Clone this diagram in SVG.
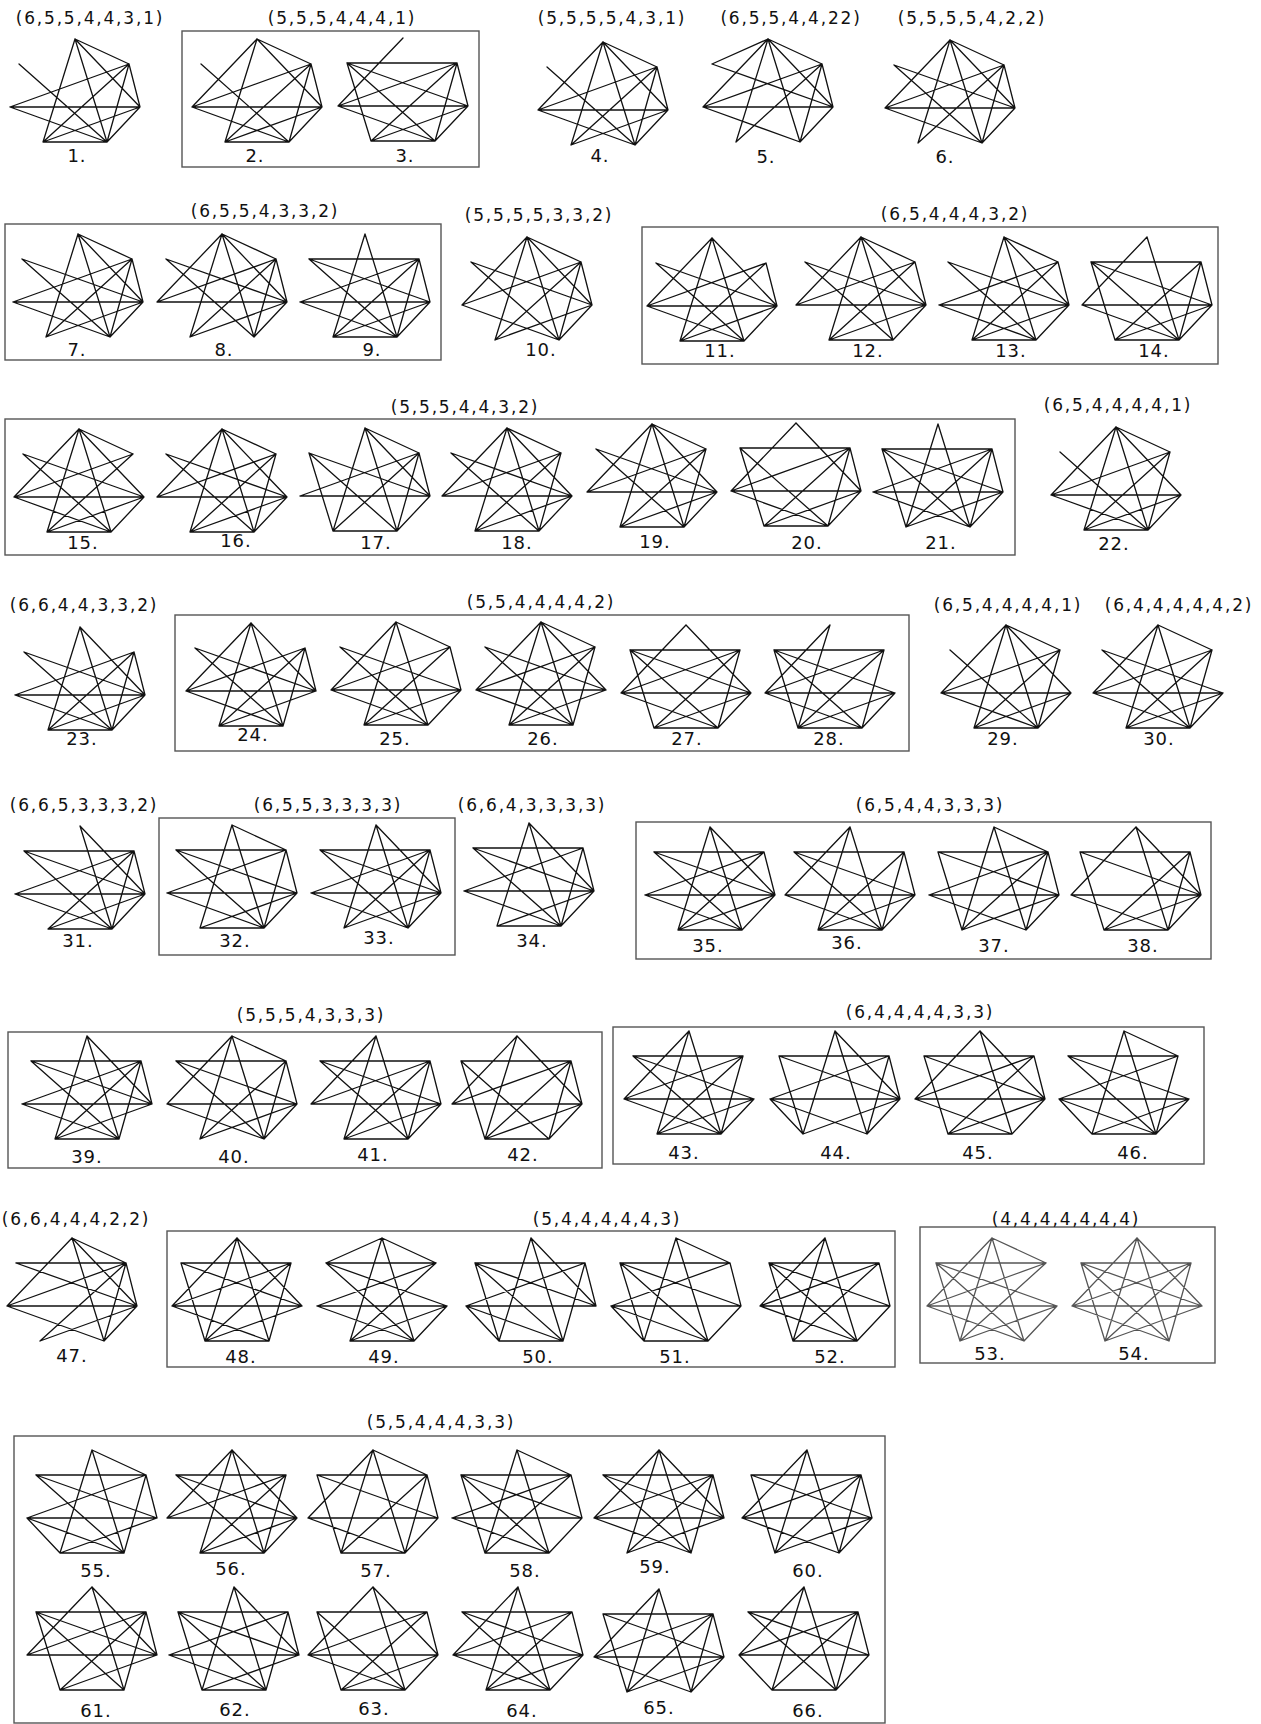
<svg xmlns="http://www.w3.org/2000/svg" width="1261" height="1724" viewBox="0 0 1261 1724">
<style>
.e{fill:none;stroke:#111;stroke-width:1.3;stroke-linecap:round}
.g{fill:none;stroke:#555;stroke-width:1.3;stroke-linecap:round}
.bx{fill:none;stroke:#555;stroke-width:1.4}
.t{font-family:"DejaVu Sans",Verdana,sans-serif;font-size:17px;letter-spacing:1.8px;fill:#111;text-anchor:middle}
.n{font-family:"DejaVu Sans",Verdana,sans-serif;font-size:18px;letter-spacing:1px;fill:#111;text-anchor:middle}
</style>
<rect width="1261" height="1724" fill="#fff"/>
<g id="boxes">
<rect class="bx" x="182" y="31" width="297" height="136"/>
<rect class="bx" x="5" y="224" width="436" height="136"/>
<rect class="bx" x="642" y="227" width="576" height="137"/>
<rect class="bx" x="5" y="419" width="1010" height="136"/>
<rect class="bx" x="175" y="615" width="734" height="136"/>
<rect class="bx" x="159" y="818" width="296" height="137"/>
<rect class="bx" x="636" y="822" width="575" height="137"/>
<rect class="bx" x="8" y="1032" width="594" height="136"/>
<rect class="bx" x="613" y="1027" width="591" height="137"/>
<rect class="bx" x="167" y="1231" width="728" height="136"/>
<rect class="bx" x="920" y="1227" width="295" height="136"/>
<rect class="bx" x="14" y="1436" width="871" height="287"/>
</g>
<g id="titles">
<text class="t" x="90" y="24">(6,5,5,4,4,3,1)</text>
<text class="t" x="342" y="24">(5,5,5,4,4,4,1)</text>
<text class="t" x="612" y="24">(5,5,5,5,4,3,1)</text>
<text class="t" x="791" y="24">(6,5,5,4,4,22)</text>
<text class="t" x="972" y="24">(5,5,5,5,4,2,2)</text>
<text class="t" x="265" y="217">(6,5,5,4,3,3,2)</text>
<text class="t" x="539" y="221">(5,5,5,5,3,3,2)</text>
<text class="t" x="955" y="220">(6,5,4,4,4,3,2)</text>
<text class="t" x="465" y="413">(5,5,5,4,4,3,2)</text>
<text class="t" x="1118" y="411">(6,5,4,4,4,4,1)</text>
<text class="t" x="84" y="611">(6,6,4,4,3,3,2)</text>
<text class="t" x="541" y="608">(5,5,4,4,4,4,2)</text>
<text class="t" x="1008" y="611">(6,5,4,4,4,4,1)</text>
<text class="t" x="1179" y="611">(6,4,4,4,4,4,2)</text>
<text class="t" x="84" y="811">(6,6,5,3,3,3,2)</text>
<text class="t" x="328" y="811">(6,5,5,3,3,3,3)</text>
<text class="t" x="532" y="811">(6,6,4,3,3,3,3)</text>
<text class="t" x="930" y="811">(6,5,4,4,3,3,3)</text>
<text class="t" x="311" y="1021">(5,5,5,4,3,3,3)</text>
<text class="t" x="920" y="1018">(6,4,4,4,4,3,3)</text>
<text class="t" x="76" y="1225">(6,6,4,4,4,2,2)</text>
<text class="t" x="607" y="1225">(5,4,4,4,4,4,3)</text>
<text class="t" x="1066" y="1225">(4,4,4,4,4,4,4)</text>
<text class="t" x="441" y="1428">(5,5,4,4,4,3,3)</text>
</g>
<g id="connectors">
<g id="g1"><path class="e" transform="translate(75 39)" d="M-56 25L32 103M54 25L-65 68M-65 68L65 68M-65 68L32 103M0 0L-32 103M0 0L32 103M0 0L54 25M0 0L65 68M54 25L65 68M54 25L-32 103M54 25L32 103M65 68L-32 103M-32 103L32 103M65 68L32 103"/><text class="n" x="77" y="162">1.</text></g>
<g id="g2"><path class="e" transform="translate(257 39)" d="M-56 25L32 103M0 0L-65 68M54 25L-65 68M-65 68L65 68M-65 68L32 103M0 0L-32 103M0 0L54 25M0 0L65 68M54 25L65 68M54 25L-32 103M54 25L32 103M65 68L-32 103M-32 103L32 103M65 68L32 103"/><text class="n" x="255" y="162">2.</text></g>
<g id="g3"><path class="e" transform="translate(403 38)" d="M0 0L-65 68M-56 25L54 25M-56 25L65 68M-56 25L32 103M-56 25L-32 103M54 25L-65 68M-65 68L65 68M-65 68L32 103M54 25L65 68M54 25L-32 103M54 25L32 103M65 68L-32 103M65 68L32 103M-32 103L32 103"/><text class="n" x="405" y="162">3.</text></g>
<g id="g4"><path class="e" transform="translate(603 42)" d="M-56 25L32 103M0 0L-65 68M0 0L-32 103M0 0L32 103M0 0L54 25M0 0L65 68M54 25L-65 68M-65 68L65 68M-65 68L32 103M54 25L65 68M54 25L-32 103M54 25L32 103M65 68L-32 103M65 68L32 103"/><text class="n" x="600" y="162">4.</text></g>
<g id="g5"><path class="e" transform="translate(768 39)" d="M0 0L-56 25M0 0L-65 68M0 0L-32 103M0 0L32 103M0 0L54 25M0 0L65 68M-56 25L65 68M54 25L-32 103M54 25L-65 68M-65 68L65 68M-65 68L32 103M54 25L65 68M54 25L32 103M65 68L32 103"/><text class="n" x="766" y="163">5.</text></g>
<g id="g6"><path class="e" transform="translate(950 40)" d="M-56 25L65 68M-56 25L32 103M0 0L-32 103M54 25L-32 103M0 0L-65 68M0 0L32 103M0 0L54 25M0 0L65 68M54 25L-65 68M-65 68L65 68M-65 68L32 103M54 25L65 68M54 25L32 103M65 68L32 103"/><text class="n" x="945" y="163">6.</text></g>
<g id="g7"><path class="e" transform="translate(78 234)" d="M-56 25L65 68M-56 25L32 103M0 0L-32 103M54 25L-32 103M65 68L-32 103M0 0L32 103M0 0L54 25M0 0L65 68M54 25L-65 68M-65 68L65 68M-65 68L32 103M54 25L65 68M54 25L32 103M65 68L32 103"/><text class="n" x="77" y="356">7.</text></g>
<g id="g8"><path class="e" transform="translate(222 234)" d="M0 0L-65 68M54 25L-65 68M-65 68L65 68M-56 25L65 68M-56 25L32 103M0 0L-32 103M54 25L-32 103M0 0L32 103M0 0L54 25M0 0L65 68M54 25L65 68M54 25L32 103M65 68L32 103M65 68L-32 103"/><text class="n" x="224" y="356">8.</text></g>
<g id="g9"><path class="e" transform="translate(365 234)" d="M0 0L-32 103M0 0L32 103M-56 25L54 25M-56 25L65 68M-56 25L32 103M54 25L-65 68M-65 68L65 68M-65 68L32 103M54 25L65 68M54 25L-32 103M54 25L32 103M65 68L-32 103M65 68L32 103M-32 103L32 103"/><text class="n" x="372" y="356">9.</text></g>
<g id="g10"><path class="e" transform="translate(527 237)" d="M-56 25L65 68M-56 25L32 103M0 0L-65 68M54 25L-65 68M-65 68L32 103M0 0L-32 103M54 25L-32 103M65 68L-32 103M0 0L54 25M0 0L65 68M0 0L32 103M54 25L65 68M54 25L32 103M65 68L32 103"/><text class="n" x="541" y="356">10.</text></g>
<g id="g11"><path class="e" transform="translate(712 238)" d="M-56 25L65 68M-56 25L32 103M0 0L-65 68M54 25L-65 68M-65 68L65 68M-65 68L32 103M0 0L-32 103M0 0L32 103M0 0L65 68M54 25L65 68M54 25L-32 103M65 68L-32 103M65 68L32 103M-32 103L32 103"/><text class="n" x="720" y="357">11.</text></g>
<g id="g12"><path class="e" transform="translate(861 237)" d="M-56 25L65 68M-56 25L32 103M0 0L-65 68M54 25L-65 68M-65 68L65 68M0 0L-32 103M0 0L32 103M0 0L54 25M0 0L65 68M54 25L65 68M54 25L-32 103M65 68L-32 103M65 68L32 103M-32 103L32 103"/><text class="n" x="868" y="357">12.</text></g>
<g id="g13"><path class="e" transform="translate(1004 237)" d="M-56 25L65 68M-56 25L32 103M54 25L-65 68M-65 68L65 68M-65 68L32 103M0 0L-32 103M0 0L32 103M0 0L54 25M0 0L65 68M54 25L65 68M54 25L-32 103M65 68L-32 103M65 68L32 103M-32 103L32 103"/><text class="n" x="1011" y="357">13.</text></g>
<g id="g14"><path class="e" transform="translate(1147 237)" d="M0 0L-65 68M0 0L32 103M-56 25L54 25M-56 25L-32 103M-56 25L65 68M-56 25L32 103M-65 68L65 68M-65 68L32 103M54 25L65 68M54 25L-32 103M54 25L32 103M65 68L-32 103M65 68L32 103M-32 103L32 103"/><text class="n" x="1154" y="357">14.</text></g>
<g id="g15"><path class="e" transform="translate(79 429)" d="M-56 25L65 68M-56 25L32 103M0 0L-65 68M54 25L-65 68M-65 68L65 68M-65 68L32 103M0 0L-32 103M0 0L32 103M0 0L54 25M0 0L65 68M54 25L-32 103M65 68L-32 103M65 68L32 103M-32 103L32 103"/><text class="n" x="83" y="549">15.</text></g>
<g id="g16"><path class="e" transform="translate(222 429)" d="M-56 25L65 68M-56 25L32 103M0 0L-65 68M54 25L-65 68M-65 68L65 68M0 0L-32 103M0 0L32 103M0 0L54 25M0 0L65 68M65 68L-32 103M65 68L32 103M-32 103L32 103M54 25L32 103M54 25L-32 103"/><text class="n" x="236" y="547">16.</text></g>
<g id="g17"><path class="e" transform="translate(365 428)" d="M54 25L-65 68M-65 68L65 68M-56 25L65 68M-56 25L32 103M-56 25L-32 103M0 0L-32 103M0 0L32 103M0 0L54 25M0 0L65 68M54 25L65 68M54 25L-32 103M54 25L32 103M65 68L32 103M-32 103L32 103"/><text class="n" x="376" y="549">17.</text></g>
<g id="g18"><path class="e" transform="translate(507 428)" d="M-56 25L65 68M-56 25L32 103M0 0L-65 68M0 0L-32 103M0 0L32 103M0 0L54 25M0 0L65 68M-65 68L65 68M54 25L-65 68M54 25L-32 103M54 25L32 103M65 68L-32 103M65 68L32 103M-32 103L32 103"/><text class="n" x="517" y="549">18.</text></g>
<g id="g19"><path class="e" transform="translate(652 424)" d="M-56 25L65 68M-56 25L32 103M0 0L-65 68M54 25L-65 68M-65 68L65 68M54 25L32 103M0 0L-32 103M0 0L32 103M0 0L65 68M0 0L54 25M54 25L-32 103M65 68L-32 103M65 68L32 103M-32 103L32 103"/><text class="n" x="655" y="548">19.</text></g>
<g id="g20"><path class="e" transform="translate(796 423)" d="M0 0L-65 68M0 0L65 68M-56 25L54 25M-56 25L-32 103M-56 25L32 103M54 25L-65 68M54 25L65 68M54 25L-32 103M54 25L32 103M-65 68L65 68M65 68L-32 103M65 68L32 103M-32 103L32 103M-65 68L32 103"/><text class="n" x="807" y="549">20.</text></g>
<g id="g21"><path class="e" transform="translate(938 424)" d="M0 0L-32 103M0 0L32 103M-56 25L54 25M-56 25L65 68M-56 25L-32 103M-56 25L32 103M54 25L-65 68M-65 68L65 68M-65 68L32 103M54 25L65 68M54 25L-32 103M54 25L32 103M65 68L-32 103M65 68L32 103"/><text class="n" x="941" y="549">21.</text></g>
<g id="g22"><path class="e" transform="translate(1116 427)" d="M-56 25L32 103M0 0L-65 68M0 0L-32 103M0 0L32 103M0 0L54 25M0 0L65 68M54 25L-65 68M-65 68L65 68M-65 68L32 103M54 25L32 103M65 68L32 103M-32 103L32 103M54 25L-32 103M65 68L-32 103"/><text class="n" x="1114" y="550">22.</text></g>
<g id="g23"><path class="e" transform="translate(80 627)" d="M0 0L-32 103M0 0L32 103M0 0L65 68M-56 25L65 68M-56 25L32 103M54 25L-65 68M54 25L-32 103M54 25L65 68M54 25L32 103M-65 68L65 68M-65 68L32 103M65 68L-32 103M65 68L32 103M-32 103L32 103"/><text class="n" x="82" y="745">23.</text></g>
<g id="g24"><path class="e" transform="translate(251 623)" d="M0 0L-65 68M0 0L-32 103M0 0L32 103M0 0L65 68M-56 25L65 68M-56 25L32 103M54 25L-65 68M54 25L-32 103M54 25L65 68M-65 68L65 68M-65 68L32 103M65 68L-32 103M-32 103L32 103M54 25L32 103"/><text class="n" x="253" y="741">24.</text></g>
<g id="g25"><path class="e" transform="translate(396 622)" d="M0 0L-65 68M0 0L-32 103M0 0L32 103M0 0L54 25M-56 25L65 68M-56 25L32 103M54 25L-65 68M54 25L-32 103M-65 68L65 68M65 68L-32 103M65 68L32 103M-32 103L32 103M-65 68L32 103M54 25L65 68"/><text class="n" x="395" y="745">25.</text></g>
<g id="g26"><path class="e" transform="translate(541 622)" d="M0 0L-65 68M0 0L-32 103M0 0L32 103M0 0L54 25M0 0L65 68M-56 25L65 68M-56 25L32 103M54 25L-65 68M54 25L-32 103M-65 68L65 68M65 68L-32 103M-32 103L32 103M-65 68L32 103M54 25L32 103"/><text class="n" x="543" y="745">26.</text></g>
<g id="g27"><path class="e" transform="translate(686 625)" d="M0 0L-65 68M0 0L65 68M-56 25L54 25M-56 25L32 103M-56 25L65 68M54 25L-65 68M54 25L-32 103M-65 68L65 68M-65 68L32 103M65 68L-32 103M65 68L32 103M-32 103L32 103M-56 25L-32 103M54 25L32 103"/><text class="n" x="687" y="745">27.</text></g>
<g id="g28"><path class="e" transform="translate(830 625)" d="M0 0L-32 103M0 0L-65 68M-56 25L54 25M-56 25L65 68M-56 25L32 103M-56 25L-32 103M54 25L-65 68M54 25L-32 103M54 25L32 103M-65 68L65 68M-65 68L32 103M65 68L-32 103M65 68L32 103M-32 103L32 103"/><text class="n" x="829" y="745">28.</text></g>
<g id="g29"><path class="e" transform="translate(1006 625)" d="M-56 25L32 103M0 0L-65 68M0 0L-32 103M0 0L32 103M0 0L54 25M0 0L65 68M54 25L-65 68M-65 68L65 68M-65 68L32 103M54 25L32 103M65 68L32 103M-32 103L32 103M54 25L-32 103M65 68L-32 103"/><text class="n" x="1003" y="745">29.</text></g>
<g id="g30"><path class="e" transform="translate(1158 625)" d="M0 0L-65 68M0 0L-32 103M0 0L32 103M0 0L54 25M-56 25L65 68M-56 25L32 103M54 25L-65 68M54 25L-32 103M-65 68L65 68M-65 68L32 103M65 68L-32 103M65 68L32 103M-32 103L32 103M54 25L32 103"/><text class="n" x="1159" y="745">30.</text></g>
<g id="g31"><path class="e" transform="translate(80 826)" d="M0 0L32 103M0 0L65 68M-56 25L54 25M-56 25L65 68M-56 25L32 103M54 25L-65 68M-65 68L65 68M-65 68L32 103M54 25L65 68M54 25L-32 103M54 25L32 103M65 68L-32 103M65 68L32 103M-32 103L32 103"/><text class="n" x="78" y="947">31.</text></g>
<g id="g32"><path class="e" transform="translate(232 825)" d="M0 0L54 25M0 0L32 103M0 0L-32 103M-56 25L54 25M-56 25L65 68M-56 25L32 103M54 25L-65 68M-65 68L65 68M-65 68L32 103M54 25L65 68M54 25L32 103M65 68L-32 103M65 68L32 103M-32 103L32 103"/><text class="n" x="235" y="947">32.</text></g>
<g id="g33"><path class="e" transform="translate(376 825)" d="M0 0L-32 103M0 0L32 103M0 0L65 68M-56 25L54 25M-56 25L32 103M-56 25L65 68M54 25L-65 68M-65 68L65 68M-65 68L32 103M54 25L65 68M54 25L-32 103M54 25L32 103M65 68L-32 103M65 68L32 103"/><text class="n" x="379" y="944">33.</text></g>
<g id="g34"><path class="e" transform="translate(529 823)" d="M0 0L-32 103M0 0L32 103M0 0L65 68M-56 25L54 25M-56 25L65 68M-56 25L32 103M54 25L-65 68M-65 68L65 68M-65 68L32 103M54 25L65 68M54 25L32 103M65 68L-32 103M65 68L32 103M-32 103L32 103"/><text class="n" x="532" y="947">34.</text></g>
<g id="g35"><path class="e" transform="translate(710 827)" d="M0 0L-32 103M0 0L32 103M0 0L65 68M-56 25L54 25M-56 25L65 68M-56 25L32 103M54 25L-65 68M-65 68L65 68M-65 68L32 103M54 25L65 68M54 25L-32 103M65 68L-32 103M65 68L32 103M-32 103L32 103"/><text class="n" x="708" y="952">35.</text></g>
<g id="g36"><path class="e" transform="translate(850 827)" d="M0 0L-65 68M0 0L-32 103M0 0L32 103M-56 25L54 25M-56 25L65 68M-56 25L32 103M-65 68L65 68M-65 68L32 103M54 25L65 68M54 25L-32 103M54 25L32 103M65 68L-32 103M65 68L32 103M-32 103L32 103"/><text class="n" x="847" y="949">36.</text></g>
<g id="g37"><path class="e" transform="translate(994 827)" d="M0 0L-32 103M0 0L32 103M0 0L54 25M-56 25L54 25M-56 25L65 68M-56 25L-32 103M54 25L-65 68M-65 68L65 68M-65 68L32 103M54 25L65 68M54 25L-32 103M54 25L32 103M65 68L-32 103M65 68L32 103"/><text class="n" x="994" y="952">37.</text></g>
<g id="g38"><path class="e" transform="translate(1136 827)" d="M0 0L-65 68M0 0L65 68M0 0L32 103M-56 25L54 25M-56 25L-32 103M-56 25L65 68M-65 68L65 68M-65 68L32 103M54 25L65 68M54 25L-32 103M54 25L32 103M65 68L-32 103M65 68L32 103M-32 103L32 103"/><text class="n" x="1143" y="952">38.</text></g>
<g id="g39"><path class="e" transform="translate(87 1036)" d="M0 0L-32 103M0 0L32 103M0 0L65 68M-56 25L54 25M-56 25L65 68M-56 25L32 103M54 25L-65 68M-65 68L65 68M-65 68L32 103M54 25L65 68M54 25L-32 103M54 25L32 103M65 68L-32 103M-32 103L32 103"/><text class="n" x="87" y="1163">39.</text></g>
<g id="g40"><path class="e" transform="translate(232 1036)" d="M0 0L-65 68M0 0L-32 103M0 0L32 103M0 0L54 25M-56 25L54 25M-56 25L65 68M-56 25L32 103M-65 68L65 68M-65 68L32 103M54 25L65 68M54 25L-32 103M54 25L32 103M65 68L-32 103M65 68L32 103"/><text class="n" x="234" y="1163">40.</text></g>
<g id="g41"><path class="e" transform="translate(376 1036)" d="M0 0L-32 103M0 0L32 103M0 0L-65 68M-56 25L54 25M-56 25L65 68M-56 25L32 103M54 25L-65 68M-65 68L65 68M54 25L65 68M54 25L-32 103M54 25L32 103M65 68L-32 103M65 68L32 103M-32 103L32 103"/><text class="n" x="373" y="1161">41.</text></g>
<g id="g42"><path class="e" transform="translate(517 1036)" d="M0 0L-65 68M0 0L65 68M0 0L-32 103M-56 25L54 25M-56 25L32 103M-56 25L-32 103M54 25L-65 68M-65 68L65 68M54 25L65 68M54 25L-32 103M54 25L32 103M65 68L-32 103M65 68L32 103M-32 103L32 103"/><text class="n" x="523" y="1161">42.</text></g>
<g id="g43"><path class="e" transform="translate(689 1031)" d="M0 0L-32 103M0 0L32 103M0 0L-65 68M-56 25L54 25M-56 25L65 68M-56 25L32 103M54 25L-65 68M-65 68L65 68M-65 68L32 103M54 25L-32 103M54 25L32 103M65 68L-32 103M65 68L32 103M-32 103L32 103"/><text class="n" x="684" y="1159">43.</text></g>
<g id="g44"><path class="e" transform="translate(835 1031)" d="M0 0L-32 103M0 0L32 103M0 0L65 68M-56 25L54 25M-56 25L65 68M-56 25L-32 103M54 25L-65 68M-65 68L65 68M-65 68L32 103M-65 68L-32 103M54 25L65 68M65 68L-32 103M65 68L32 103M54 25L32 103"/><text class="n" x="836" y="1159">44.</text></g>
<g id="g45"><path class="e" transform="translate(980 1031)" d="M0 0L-65 68M0 0L32 103M0 0L65 68M-56 25L54 25M-56 25L65 68M-56 25L-32 103M-65 68L65 68M54 25L-65 68M-65 68L32 103M54 25L65 68M54 25L-32 103M65 68L-32 103M65 68L32 103M-32 103L32 103"/><text class="n" x="978" y="1159">45.</text></g>
<g id="g46"><path class="e" transform="translate(1124 1031)" d="M0 0L-32 103M0 0L32 103M0 0L54 25M-56 25L54 25M-56 25L65 68M-56 25L32 103M54 25L-65 68M-65 68L65 68M-65 68L32 103M-65 68L-32 103M54 25L32 103M65 68L32 103M-32 103L32 103M65 68L-32 103"/><text class="n" x="1133" y="1159">46.</text></g>
<g id="g47"><path class="e" transform="translate(72 1238)" d="M-56 25L54 25M-56 25L65 68M54 25L-32 103M65 68L-32 103M0 0L-65 68M0 0L32 103M0 0L65 68M0 0L54 25M54 25L-65 68M-65 68L65 68M-65 68L32 103M54 25L65 68M54 25L32 103M65 68L32 103"/><text class="n" x="72" y="1362">47.</text></g>
<g id="g48"><path class="e" transform="translate(237 1238)" d="M0 0L-65 68M0 0L-32 103M0 0L32 103M0 0L65 68M-56 25L54 25M-56 25L-32 103M-56 25L65 68M54 25L-65 68M-65 68L65 68M-65 68L32 103M54 25L-32 103M54 25L32 103M65 68L-32 103M-32 103L32 103"/><text class="n" x="241" y="1363">48.</text></g>
<g id="g49"><path class="e" transform="translate(382 1238)" d="M0 0L-56 25M0 0L54 25M0 0L-32 103M0 0L32 103M-56 25L54 25M-56 25L65 68M-56 25L32 103M54 25L-65 68M-65 68L65 68M-65 68L32 103M54 25L-32 103M65 68L-32 103M65 68L32 103M-32 103L32 103"/><text class="n" x="384" y="1363">49.</text></g>
<g id="g50"><path class="e" transform="translate(531 1238)" d="M0 0L-32 103M0 0L32 103M0 0L65 68M-56 25L54 25M-56 25L65 68M-56 25L32 103M-56 25L-32 103M54 25L-65 68M-65 68L65 68M-65 68L32 103M-65 68L-32 103M54 25L65 68M54 25L32 103M-32 103L32 103"/><text class="n" x="538" y="1363">50.</text></g>
<g id="g51"><path class="e" transform="translate(676 1238)" d="M0 0L-32 103M0 0L54 25M0 0L32 103M-56 25L54 25M-56 25L65 68M-56 25L-32 103M-56 25L32 103M54 25L-65 68M-65 68L65 68M-65 68L-32 103M-65 68L32 103M54 25L65 68M65 68L32 103M-32 103L32 103"/><text class="n" x="675" y="1363">51.</text></g>
<g id="g52"><path class="e" transform="translate(825 1238)" d="M0 0L-65 68M0 0L32 103M0 0L-32 103M-56 25L54 25M-56 25L65 68M-56 25L32 103M-56 25L-32 103M54 25L-65 68M-65 68L65 68M-65 68L32 103M54 25L65 68M65 68L32 103M-32 103L32 103M54 25L-32 103"/><text class="n" x="830" y="1363">52.</text></g>
<g id="g53"><path class="g" transform="translate(992 1238)" d="M0 0L54 25M0 0L-65 68M0 0L-32 103M0 0L32 103M-56 25L54 25M-56 25L65 68M-56 25L-32 103M-56 25L32 103M54 25L-65 68M-65 68L65 68M-65 68L32 103M54 25L-32 103M65 68L-32 103M65 68L32 103"/><text class="n" x="990" y="1360">53.</text></g>
<g id="g54"><path class="g" transform="translate(1137 1238)" d="M0 0L65 68M0 0L32 103M0 0L-32 103M0 0L-65 68M54 25L32 103M54 25L-32 103M54 25L-65 68M-56 25L54 25M-56 25L65 68M-56 25L32 103M-56 25L-32 103M-65 68L65 68M-65 68L32 103M65 68L-32 103"/><text class="n" x="1134" y="1360">54.</text></g>
<g id="g55"><path class="e" transform="translate(92 1450)" d="M0 0L-32 103M0 0L32 103M0 0L54 25M-56 25L54 25M-56 25L65 68M-56 25L32 103M54 25L-65 68M-65 68L65 68M-65 68L32 103M-65 68L-32 103M54 25L65 68M65 68L-32 103M-32 103L32 103M54 25L32 103"/><text class="n" x="96" y="1577">55.</text></g>
<g id="g56"><path class="e" transform="translate(232 1450)" d="M0 0L-65 68M0 0L-32 103M0 0L32 103M0 0L65 68M-56 25L54 25M-56 25L65 68M-56 25L32 103M54 25L-65 68M-65 68L65 68M54 25L-32 103M54 25L32 103M65 68L-32 103M65 68L32 103M-32 103L32 103"/><text class="n" x="231" y="1575">56.</text></g>
<g id="g57"><path class="e" transform="translate(373 1450)" d="M0 0L-65 68M0 0L-32 103M0 0L32 103M0 0L54 25M-56 25L54 25M-56 25L65 68M-56 25L-32 103M-65 68L65 68M-65 68L32 103M54 25L65 68M54 25L-32 103M54 25L32 103M65 68L32 103M-32 103L32 103"/><text class="n" x="376" y="1577">57.</text></g>
<g id="g58"><path class="e" transform="translate(517 1450)" d="M0 0L54 25M0 0L-32 103M0 0L32 103M-56 25L54 25M-56 25L65 68M-56 25L32 103M-56 25L-32 103M54 25L-65 68M-65 68L65 68M-65 68L32 103M54 25L65 68M65 68L32 103M-32 103L32 103M54 25L-32 103"/><text class="n" x="525" y="1577">58.</text></g>
<g id="g59"><path class="e" transform="translate(659 1450)" d="M0 0L-65 68M0 0L65 68M0 0L-32 103M0 0L32 103M-56 25L54 25M-56 25L65 68M-56 25L32 103M54 25L-65 68M-65 68L65 68M-65 68L32 103M54 25L65 68M54 25L-32 103M54 25L32 103M65 68L-32 103"/><text class="n" x="655" y="1573">59.</text></g>
<g id="g60"><path class="e" transform="translate(807 1450)" d="M0 0L-65 68M0 0L-32 103M0 0L32 103M-56 25L54 25M-56 25L65 68M-56 25L-32 103M54 25L-65 68M-65 68L65 68M-65 68L32 103M54 25L65 68M54 25L-32 103M54 25L32 103M65 68L-32 103M65 68L32 103"/><text class="n" x="808" y="1577">60.</text></g>
<g id="g61"><path class="e" transform="translate(92 1587)" d="M0 0L-65 68M0 0L32 103M0 0L65 68M-56 25L54 25M-56 25L65 68M-56 25L32 103M-56 25L-32 103M54 25L-65 68M-65 68L65 68M54 25L65 68M54 25L-32 103M54 25L32 103M65 68L-32 103M-32 103L32 103"/><text class="n" x="96" y="1717">61.</text></g>
<g id="g62"><path class="e" transform="translate(234 1587)" d="M0 0L-32 103M0 0L32 103M0 0L65 68M-56 25L54 25M-56 25L65 68M-56 25L32 103M-56 25L-32 103M54 25L-65 68M-65 68L65 68M-65 68L32 103M54 25L65 68M65 68L-32 103M-32 103L32 103M54 25L32 103"/><text class="n" x="235" y="1716">62.</text></g>
<g id="g63"><path class="e" transform="translate(373 1587)" d="M0 0L-65 68M0 0L65 68M0 0L32 103M-56 25L54 25M-56 25L-32 103M-56 25L32 103M54 25L-65 68M-65 68L65 68M-65 68L32 103M54 25L65 68M54 25L-32 103M65 68L-32 103M65 68L32 103M-32 103L32 103"/><text class="n" x="374" y="1715">63.</text></g>
<g id="g64"><path class="e" transform="translate(518 1587)" d="M0 0L-65 68M0 0L32 103M0 0L-32 103M-56 25L54 25M-56 25L65 68M-56 25L32 103M54 25L-65 68M-65 68L65 68M-65 68L32 103M54 25L65 68M54 25L-32 103M65 68L-32 103M65 68L32 103M-32 103L32 103"/><text class="n" x="522" y="1717">64.</text></g>
<g id="g65"><path class="e" transform="translate(659 1589)" d="M0 0L-32 103M0 0L32 103M0 0L-65 68M-56 25L54 25M-56 25L-32 103M-56 25L65 68M54 25L-65 68M-65 68L65 68M-65 68L32 103M54 25L65 68M54 25L-32 103M54 25L32 103M65 68L-32 103M65 68L32 103"/><text class="n" x="659" y="1714">65.</text></g>
<g id="g66"><path class="e" transform="translate(804 1587)" d="M0 0L-65 68M0 0L-32 103M0 0L32 103M-56 25L54 25M-56 25L65 68M-56 25L32 103M54 25L-65 68M-65 68L65 68M-65 68L-32 103M54 25L65 68M54 25L-32 103M54 25L32 103M65 68L32 103M-32 103L32 103"/><text class="n" x="808" y="1717">66.</text></g>
</g>
</svg>
